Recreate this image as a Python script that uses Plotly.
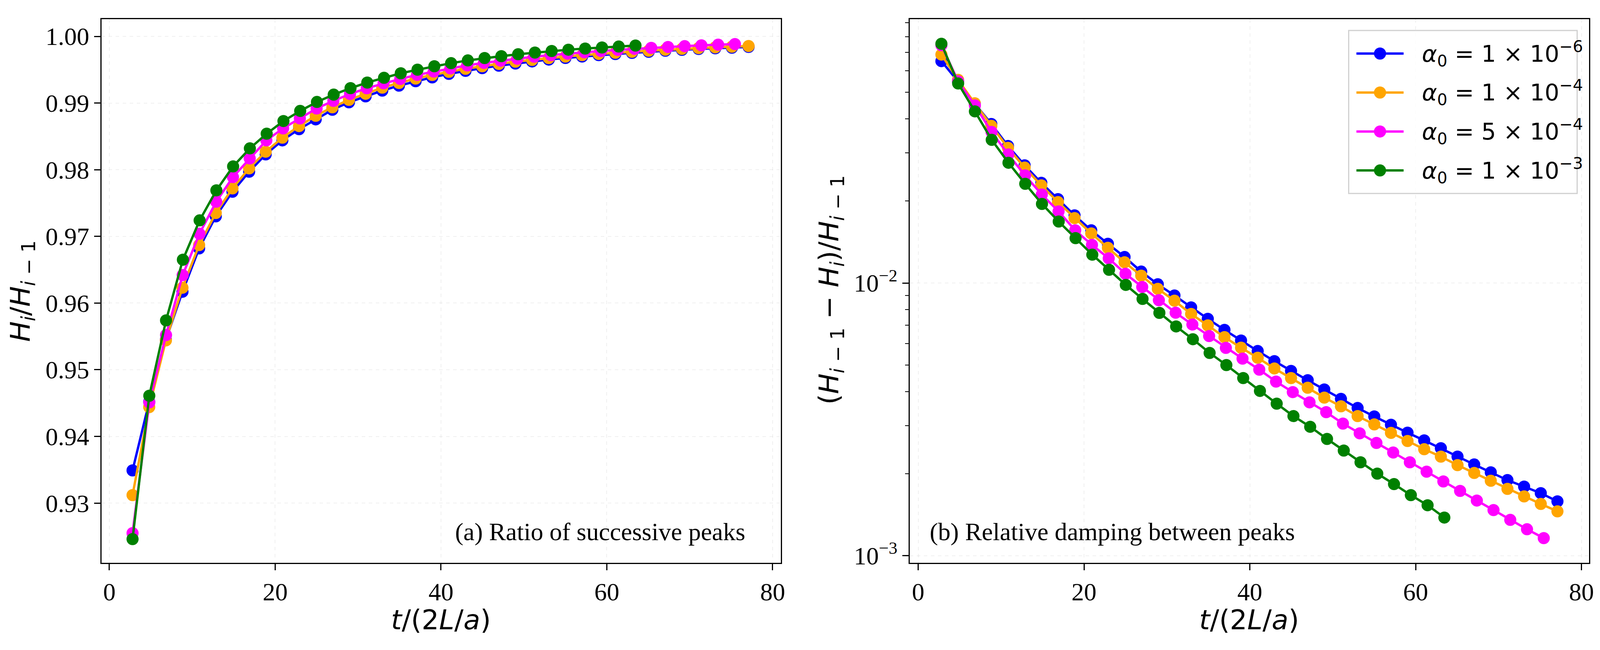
import plotly.graph_objects as go

# the browser viewport is 4096 px wide, so the figure is laid out on that width
# and every position is given as a fraction of the reference picture (4342 x 1663)
W, H = 4096, 1663
RW, RH = 4342, 1663


def px(x):
    return x / RW


def py(y):
    return 1 - y / RH


# peak times t/(2L/a) for each series
t_slow = [2.80, 4.81, 6.82, 8.82, 10.83, 12.84, 14.85, 16.86, 18.86, 20.87, 22.88, 24.89, 26.90,
          28.90, 30.91, 32.92, 34.93, 36.94, 38.94, 40.95, 42.96, 44.97, 46.98, 48.98, 50.99,
          53.00, 55.01, 57.02, 59.02, 61.03, 63.04, 65.05, 67.06, 69.06, 71.07, 73.08, 75.09, 77.10]
t_magenta = [2.80, 4.82, 6.84, 8.85, 10.87, 12.89, 14.91, 16.93, 18.94, 20.96, 22.98, 25.00, 27.02,
             29.03, 31.05, 33.07, 35.09, 37.11, 39.12, 41.14, 43.16, 45.18, 47.20, 49.21, 51.23,
             53.25, 55.27, 57.29, 59.30, 61.32, 63.34, 65.36, 67.38, 69.39, 71.41, 73.43, 75.45]
t_green = [2.80, 4.82, 6.84, 8.87, 10.89, 12.91, 14.93, 16.95, 18.98, 21.00, 23.02, 25.04, 27.06,
           29.09, 31.11, 33.13, 35.15, 37.17, 39.20, 41.22, 43.24, 45.26, 47.28, 49.31, 51.33,
           53.35, 55.37, 57.39, 59.42, 61.44, 63.46]

# (a) ratio of successive peaks H_i/H_{i-1}
r_blue = [0.9349, 0.9452, 0.9545, 0.9617, 0.9682, 0.9730, 0.9767, 0.9797, 0.9823, 0.9844,
          0.98608, 0.98755, 0.98899, 0.99011, 0.99100, 0.99186, 0.99261, 0.99327, 0.99385,
          0.99437, 0.99483, 0.99524, 0.99560, 0.99593, 0.99624, 0.99652, 0.99676, 0.99698,
          0.99718, 0.99735, 0.99752, 0.99769, 0.99784, 0.99798, 0.99811, 0.99821, 0.99830, 0.99842]
r_orange = [0.9312, 0.9444, 0.9544, 0.9623, 0.9687, 0.9735, 0.9772, 0.9802, 0.9827, 0.9848,
            0.98654, 0.98809, 0.98936, 0.99048, 0.99139, 0.99230, 0.99301, 0.99367, 0.99421,
            0.99468, 0.99514, 0.99552, 0.99587, 0.99620, 0.99647, 0.99675, 0.99697, 0.99718,
            0.99737, 0.99754, 0.99769, 0.99785, 0.99799, 0.99812, 0.99824, 0.99835, 0.99845, 0.99855]
r_magenta = [0.9255, 0.9451, 0.9552, 0.9642, 0.9704, 0.9752, 0.9789, 0.9817, 0.9844, 0.9862,
             0.98769, 0.98919, 0.99033, 0.99135, 0.99222, 0.99296, 0.99361, 0.99422, 0.99472,
             0.99519, 0.99565, 0.99602, 0.99635, 0.99664, 0.99695, 0.99719, 0.99741, 0.99761,
             0.99780, 0.99797, 0.99813, 0.99827, 0.99841, 0.99853, 0.99865, 0.99875, 0.99884]
r_green = [0.9246, 0.9461, 0.9574, 0.9665, 0.9724, 0.9769, 0.9805, 0.9832, 0.9854, 0.9873,
           0.98882, 0.99016, 0.99126, 0.99223, 0.99307, 0.99378, 0.99446, 0.99500, 0.99552,
           0.99598, 0.99639, 0.99675, 0.99703, 0.99732, 0.99757, 0.99780, 0.99800, 0.99817,
           0.99833, 0.99847, 0.99862]

# (b) relative damping (H_{i-1}-H_i)/H_{i-1}
d_blue = [0.0651, 0.0548, 0.0455, 0.0383, 0.0318, 0.0270, 0.0233, 0.0203, 0.0177, 0.0156,
          0.01392, 0.01245, 0.01101, 0.00989, 0.00900, 0.00814, 0.00739, 0.00673, 0.00615,
          0.00563, 0.00517, 0.00476, 0.00440, 0.00407, 0.00376, 0.00348, 0.00324, 0.00302,
          0.002825, 0.002647, 0.002478, 0.002308, 0.002160, 0.002022, 0.001893, 0.001792,
          0.001696, 0.001582]
d_orange = [0.0688, 0.0556, 0.0456, 0.0377, 0.0313, 0.0265, 0.0228, 0.0198, 0.0173, 0.0152,
            0.01346, 0.01191, 0.01064, 0.00952, 0.00861, 0.00770, 0.00699, 0.00633, 0.00579,
            0.00532, 0.00486, 0.00448, 0.00413, 0.00380, 0.00353, 0.00325, 0.00303, 0.00282,
            0.002633, 0.002457, 0.002308, 0.002148, 0.002011, 0.001883, 0.001758, 0.001650,
            0.001548, 0.001454]
d_magenta = [0.0745, 0.0549, 0.0448, 0.0358, 0.0296, 0.0248, 0.0211, 0.0183, 0.0156, 0.0138,
             0.01231, 0.01081, 0.00967, 0.00865, 0.00778, 0.00704, 0.00639, 0.00578, 0.00528,
             0.00481, 0.00435, 0.00398, 0.00365, 0.00336, 0.00305, 0.00281, 0.00259, 0.00239,
             0.002201, 0.002033, 0.001872, 0.001728, 0.001593, 0.001470, 0.001353, 0.001250,
             0.001160]
d_green = [0.0754, 0.0539, 0.0426, 0.0335, 0.0276, 0.0231, 0.0195, 0.0168, 0.0146, 0.0127,
           0.01118, 0.00984, 0.00874, 0.00777, 0.00693, 0.00622, 0.00554, 0.00500, 0.00448,
           0.00402, 0.00361, 0.00325, 0.00297, 0.00268, 0.00243, 0.00220, 0.00200, 0.00183,
           0.001668, 0.001531, 0.00138]

labels = [
    "<i>α</i><sub>0</sub> = 1 × 10<sup>−6</sup>",
    "<i>α</i><sub>0</sub> = 1 × 10<sup>−4</sup>",
    "<i>α</i><sub>0</sub> = 5 × 10<sup>−4</sup>",
    "<i>α</i><sub>0</sub> = 1 × 10<sup>−3</sup>",
]
colors = ["#0000ff", "#ffa500", "#ff00ff", "#008000"]

series = [
    (t_slow, r_blue, d_blue),
    (t_slow, r_orange, d_orange),
    (t_magenta, r_magenta, d_magenta),
    (t_green, r_green, d_green),
]

SERIF = "Liberation Serif, Times New Roman, serif"
SANS = "DejaVu Sans, sans-serif"
MS = 31   # marker size
LW = 6    # line width

fig = go.Figure()
for (t, r, d), lab, col in zip(series, labels, colors):
    fig.add_trace(go.Scatter(x=t, y=r, mode="lines+markers", name=lab, showlegend=False,
                             line=dict(color=col, width=LW), marker=dict(size=MS, color=col),
                             xaxis="x", yaxis="y"))
for (t, r, d), lab, col in zip(series, labels, colors):
    fig.add_trace(go.Scatter(x=t, y=d, mode="lines+markers", name=lab, showlegend=False,
                             line=dict(color=col, width=LW), marker=dict(size=MS, color=col),
                             xaxis="x2", yaxis="y2"))

grid = "rgba(200,200,200,0.28)"
common = dict(showline=True, linecolor="black", linewidth=3, mirror=True,
              ticks="outside", ticklen=16, tickwidth=3, tickcolor="black",
              showgrid=True, gridcolor=grid, gridwidth=2, griddash="dash",
              zeroline=False, automargin=False,
              tickfont=dict(family=SERIF, size=64, color="black"))

top, bot = py(49), py(1440)
fig.update_layout(
    width=W, height=H,
    margin=dict(l=0, r=0, t=0, b=0),
    paper_bgcolor="white", plot_bgcolor="white",
    showlegend=False,
    xaxis=dict(domain=[px(276), px(2119)], range=[-0.92, 80.99],
               tickvals=[0, 20, 40, 60, 80], anchor="y", **common),
    yaxis=dict(domain=[bot, top], range=[0.92104, 1.00258],
               tickvals=[0.93, 0.94, 0.95, 0.96, 0.97, 0.98, 0.99, 1.00],
               tickformat=".2f", anchor="x", **common),
    xaxis2=dict(domain=[px(2469), px(4312)], range=[-1.01, 80.9],
                tickvals=[0, 20, 40, 60, 80], anchor="y2", **common),
    yaxis2=dict(domain=[bot, top], type="log", range=[-3.0262, -1.0325],
                tickvals=[0.001, 0.01], ticktext=["10<sup>−3</sup>", "10<sup>−2</sup>"],
                anchor="x2",
                minor=dict(ticks="outside", ticklen=9, tickwidth=2, tickcolor="black",
                           tickmode="array", showgrid=False,
                           tickvals=[0.002, 0.003, 0.004, 0.005, 0.006, 0.007, 0.008, 0.009,
                                     0.02, 0.03, 0.04, 0.05, 0.06, 0.07, 0.08, 0.09]),
                **common),
)

# legend drawn by hand so its markers keep the plot's marker size
fig.add_shape(type="rect", xref="paper", yref="paper",
              x0=px(3660), x1=px(4280), y0=py(495), y1=py(78),
              line=dict(color="#d0d0d0", width=3), fillcolor="rgba(255,255,255,0.8)", layer="above")
ann = []
for i, (lab, col) in enumerate(zip(labels, colors)):
    yc = py(137 + 99.7 * i)
    fig.add_shape(type="line", xref="paper", yref="paper", x0=px(3681), x1=px(3809),
                  y0=yc, y1=yc, line=dict(color=col, width=LW), layer="above")
    fig.add_shape(type="circle", xref="paper", yref="paper", xsizemode="pixel", ysizemode="pixel",
                  xanchor=px(3745), yanchor=yc, x0=-MS / 2, x1=MS / 2, y0=-MS / 2, y1=MS / 2,
                  fillcolor=col, line=dict(color=col, width=0), layer="above")
    ann.append(dict(text=lab, x=px(3857), y=yc, xanchor="left", yanchor="middle",
                    font=dict(family=SANS, size=59)))

ann += [
    dict(text="(a) Ratio of successive peaks", x=px(2025), y=py(1360),
         xanchor="right", yanchor="middle", font=dict(family=SERIF, size=64)),
    dict(text="(b) Relative damping between peaks", x=px(2521), y=py(1360),
         xanchor="left", yanchor="middle", font=dict(family=SERIF, size=64)),
    dict(text="<i>t</i>/(2<i>L</i>/<i>a</i>)", x=px(1197), y=py(1586),
         xanchor="center", yanchor="middle", font=dict(family=SANS, size=70)),
    dict(text="<i>t</i>/(2<i>L</i>/<i>a</i>)", x=px(3390), y=py(1586),
         xanchor="center", yanchor="middle", font=dict(family=SANS, size=70)),
    dict(text="<i>H<sub>i</sub></i>/<i>H</i><sub><i>i</i> − 1</sub>", x=px(60), y=py(745),
         xanchor="center", yanchor="middle", textangle=-90, font=dict(family=SANS, size=70)),
    dict(text="(<i>H</i><sub><i>i</i> − 1</sub> − <i>H<sub>i</sub></i>)/<i>H</i><sub><i>i</i> − 1</sub>",
         x=px(2255), y=py(742),
         xanchor="center", yanchor="middle", textangle=-90, font=dict(family=SANS, size=70)),
]
for a in ann:
    a.update(xref="paper", yref="paper", showarrow=False)
    a["font"]["color"] = "black"
fig.update_layout(annotations=ann)

post = "document.body.style.margin='0'; document.body.style.overflow='hidden';"
fig.write_html("out.html", post_script=post, config={"displayModeBar": False})
